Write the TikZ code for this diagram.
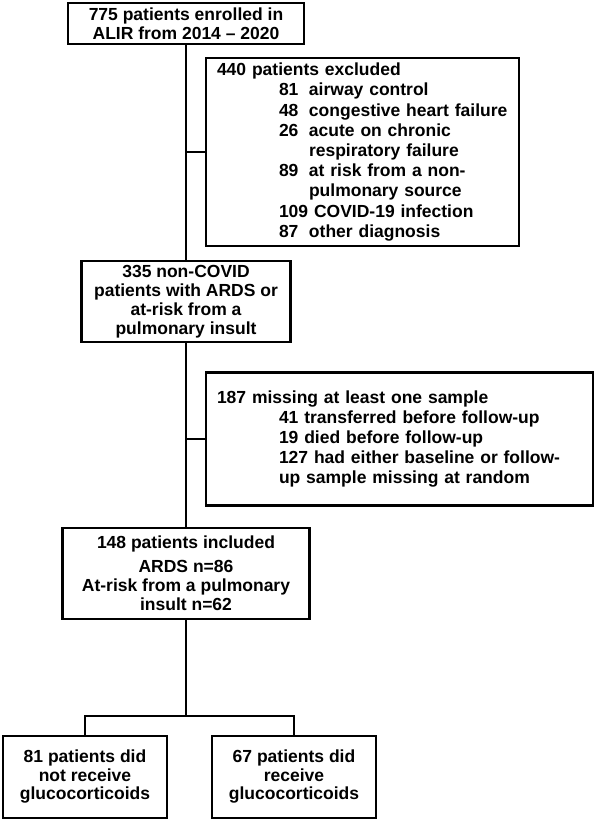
\documentclass[tikz,border=0pt]{standalone}
\usepackage{fontspec}
\setmainfont{Liberation Sans}
\usetikzlibrary{positioning}

\newcommand{\reasonline}[2]{\hspace*{62pt}\makebox[30pt][l]{#1}#2}

\begin{document}
\begin{tikzpicture}[x=1pt, y=-1pt, line width=2.6pt, node distance=20pt,
    font=\bfseries\fontsize{17.5}{19}\selectfont,
    box/.style={draw, rectangle, align=center, inner sep=2pt},
    listbox/.style={draw, rectangle, align=left, inner xsep=11pt, inner ysep=2pt,
        font=\bfseries\fontsize{17.5}{20.2}\selectfont},
    armbox/.style={draw, rectangle, minimum width=164pt, minimum height=82pt, align=center,
        inner sep=2pt, font=\bfseries\fontsize{17.5}{18.5}\selectfont}]

\useasboundingbox (0,0) rectangle (597,821);

\node[box, minimum width=236pt, minimum height=41pt] (enrol) at (186,23.5)
    {775 patients enrolled in\\ALIR from 2014 -- 2020};
\node[box, minimum width=209pt, minimum height=81pt, below=214.4pt of enrol] (noncovid)
    {335 non-COVID\\patients with ARDS or\\at-risk from a\\pulmonary insult};
\node[box, minimum width=247pt, minimum height=91pt, below=183.4pt of noncovid] (incl)
    {148 patients included\\[5pt]ARDS n=86\\At-risk from a pulmonary\\insult n=62};

\coordinate (j1) at (186,152);
\coordinate (j2) at (186,439);
\coordinate (split) at (186,716);

\node[listbox, text width=291pt, minimum height=188pt, right=18.7pt of j1] (excl)
    {440 patients excluded\\
     \reasonline{81}{airway control}\\
     \reasonline{48}{congestive heart failure}\\
     \reasonline{26}{acute on chronic}\\
     \hspace*{92pt}respiratory failure\\
     \reasonline{89}{at risk from a non-}\\
     \hspace*{92pt}pulmonary source\\
     \hspace*{62pt}109 COVID-19 infection\\
     \reasonline{87}{other diagnosis}};
\node[listbox, text width=365pt, minimum height=133pt, right=18.7pt of j2] (miss)
    {187 missing at least one sample\\
     \hspace*{62pt}41 transferred before follow-up\\
     \hspace*{62pt}19 died before follow-up\\
     \hspace*{62pt}127 had either baseline or follow-\\
     \hspace*{62pt}up sample missing at random};

\node[armbox, below=114.4pt of incl, xshift=-101pt] (nogc)
    {81 patients did\\not receive\\glucocorticoids};
\node[armbox, below=114.4pt of incl, xshift=108pt] (gc)
    {67 patients did\\receive\\glucocorticoids};

\draw (enrol) -- (noncovid);
\draw (j1) -- (excl);
\draw (noncovid) -- (incl);
\draw (j2) -- (miss);
\draw (incl) -- (split);
\draw (nogc) |- (split) -| (gc);
\end{tikzpicture}
\end{document}
